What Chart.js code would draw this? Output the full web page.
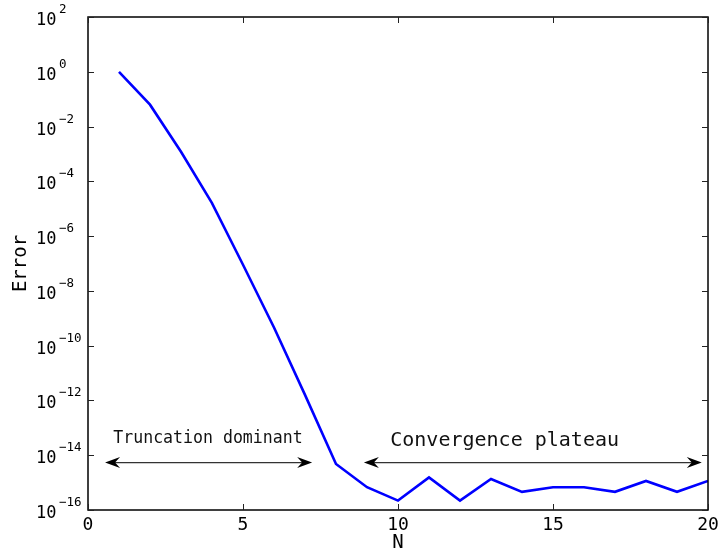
<!DOCTYPE html>
<html>
<head>
<meta charset="utf-8">
<script src="https://cdn.jsdelivr.net/npm/chart.js@4"></script>
<style>
html,body{margin:0;padding:0;background:#fff;}
#c{display:block;}
</style>
</head>
<body>
<canvas id="c" width="719" height="548"></canvas>
<script>
// ---- data ----
const nValues = [1,2,3,4,5,6,7,8,9,10,11,12,13,14,15,16,17,18,19,20];
const errorValues = [1.0, 6.3e-2, 1.2e-3, 1.6e-5, 9.0e-8, 4.6e-10, 1.6e-12, 4.8e-15,
  6.8e-16, 2.2e-16, 1.55e-15, 2.2e-16, 1.35e-15, 4.6e-16, 6.8e-16, 6.8e-16,
  4.6e-16, 1.15e-15, 4.6e-16, 1.15e-15];
const yTickExponents = [2,0,-2,-4,-6,-8,-10,-12,-14,-16];
const xTickValues = [0,5,10,15,20];
const annotations = [
  {label: 'Truncation dominant', from: 0.55, to: 7.23, level: 10**-14.27, textAt: 3.87},
  {label: 'Convergence plateau', from: 8.9, to: 19.8, level: 10**-14.27, textAt: 13.44}
];

const MONO = '"DejaVu Sans Mono", monospace';

function drawArrowHead(ctx, x, y, dir) {
  const L = 15, W = 5.5, N = 10;
  ctx.beginPath();
  ctx.moveTo(x, y);
  ctx.lineTo(x - dir * L, y - W);
  ctx.lineTo(x - dir * N, y);
  ctx.lineTo(x - dir * L, y + W);
  ctx.closePath();
  ctx.fill();
}

const decorPlugin = {
  id: 'decor',
  afterDraw(chart) {
    const {ctx, chartArea: {left, right, top, bottom}, scales: {x, y}} = chart;
    ctx.save();
    ctx.strokeStyle = '#000';
    ctx.lineWidth = 1.5;
    ctx.strokeRect(left, top, right - left, bottom - top);
    ctx.lineWidth = 1;
    ctx.strokeStyle = '#222';
    ctx.beginPath();
    x.ticks.forEach(t => {
      const px = Math.round(x.getPixelForValue(t.value)) + 0.5;
      ctx.moveTo(px, bottom); ctx.lineTo(px, bottom - 6);
      ctx.moveTo(px, top); ctx.lineTo(px, top + 6);
    });
    y.ticks.forEach(t => {
      const py = Math.round(y.getPixelForValue(t.value)) + 0.5;
      ctx.moveTo(left, py); ctx.lineTo(left + 6, py);
      ctx.moveTo(right, py); ctx.lineTo(right - 6, py);
    });
    ctx.stroke();
    ctx.fillStyle = '#000';
    ctx.textAlign = 'left';
    ctx.textBaseline = 'alphabetic';
    yTickExponents.forEach(e => {
      const py = y.getPixelForValue(Number('1e' + e));
      ctx.font = '17px ' + MONO;
      ctx.fillText('10', 36, py + 8);
      ctx.font = '12.5px ' + MONO;
      const s = e < 0 ? '\u2212' + Math.abs(e) : String(e);
      ctx.fillText(s, 59, py - 4);
    });
    annotations.forEach((a, i) => {
      const x1 = x.getPixelForValue(a.from);
      const x2 = x.getPixelForValue(a.to);
      const py = y.getPixelForValue(a.level);
      ctx.strokeStyle = '#333';
      ctx.fillStyle = '#000';
      ctx.lineWidth = 1.3;
      ctx.beginPath();
      ctx.moveTo(x1 + 8, py); ctx.lineTo(x2 - 8, py);
      ctx.stroke();
      drawArrowHead(ctx, x1, py, -1);
      drawArrowHead(ctx, x2, py, 1);
      ctx.fillStyle = '#111';
      ctx.textAlign = 'center';
      const cx = x.getPixelForValue(a.textAt);
      if (i === 0) {
        ctx.save();
        ctx.font = '18px ' + MONO;
        ctx.translate(cx, py - 20);
        ctx.scale(0.92, 1);
        ctx.fillText(a.label, 0, 0);
        ctx.restore();
      } else {
        ctx.font = '20px ' + MONO;
        ctx.fillText(a.label, cx, py - 17);
      }
    });
    ctx.restore();
  }
};

new Chart(document.getElementById('c'), {
  type: 'line',
  data: {
    datasets: [{
      data: nValues.map((n, i) => ({x: n, y: errorValues[i]})),
      borderColor: '#0000ff',
      borderWidth: 2.6,
      pointRadius: 0,
      tension: 0,
      fill: false
    }]
  },
  options: {
    responsive: false,
    animation: false,
    devicePixelRatio: 1,
    layout: {padding: {top: 17, right: 11, left: 0, bottom: 0}},
    plugins: {legend: {display: false}, tooltip: {enabled: false}},
    scales: {
      x: {
        type: 'linear',
        min: 0, max: 20,
        afterBuildTicks: s => { s.ticks = xTickValues.map(v => ({value: v})); },
        afterFit: s => { s.height = 38; s.paddingRight = 0; s.paddingLeft = 0; },
        grid: {display: false, drawTicks: false},
        border: {display: false},
        ticks: {
          color: '#000',
          font: {family: MONO, size: 18},
          padding: 5,
          maxRotation: 0
        },
        title: {
          display: true,
          text: 'N',
          color: '#000',
          font: {family: MONO, size: 19},
          padding: {top: 0, bottom: -6}
        }
      },
      y: {
        type: 'logarithmic',
        min: 1e-16, max: 1e2,
        afterBuildTicks: s => { s.ticks = yTickExponents.map(e => ({value: Number('1e' + e)})); },
        afterFit: s => { s.width = 88; s.paddingTop = 0; s.paddingBottom = 0; },
        grid: {display: false, drawTicks: false},
        border: {display: false},
        ticks: {display: false},
        title: {
          display: true,
          text: 'Error',
          color: '#000',
          font: {family: MONO, size: 19},
          padding: {top: 10, bottom: 0}
        }
      }
    }
  },
  plugins: [decorPlugin]
});
</script>
</body>
</html>
